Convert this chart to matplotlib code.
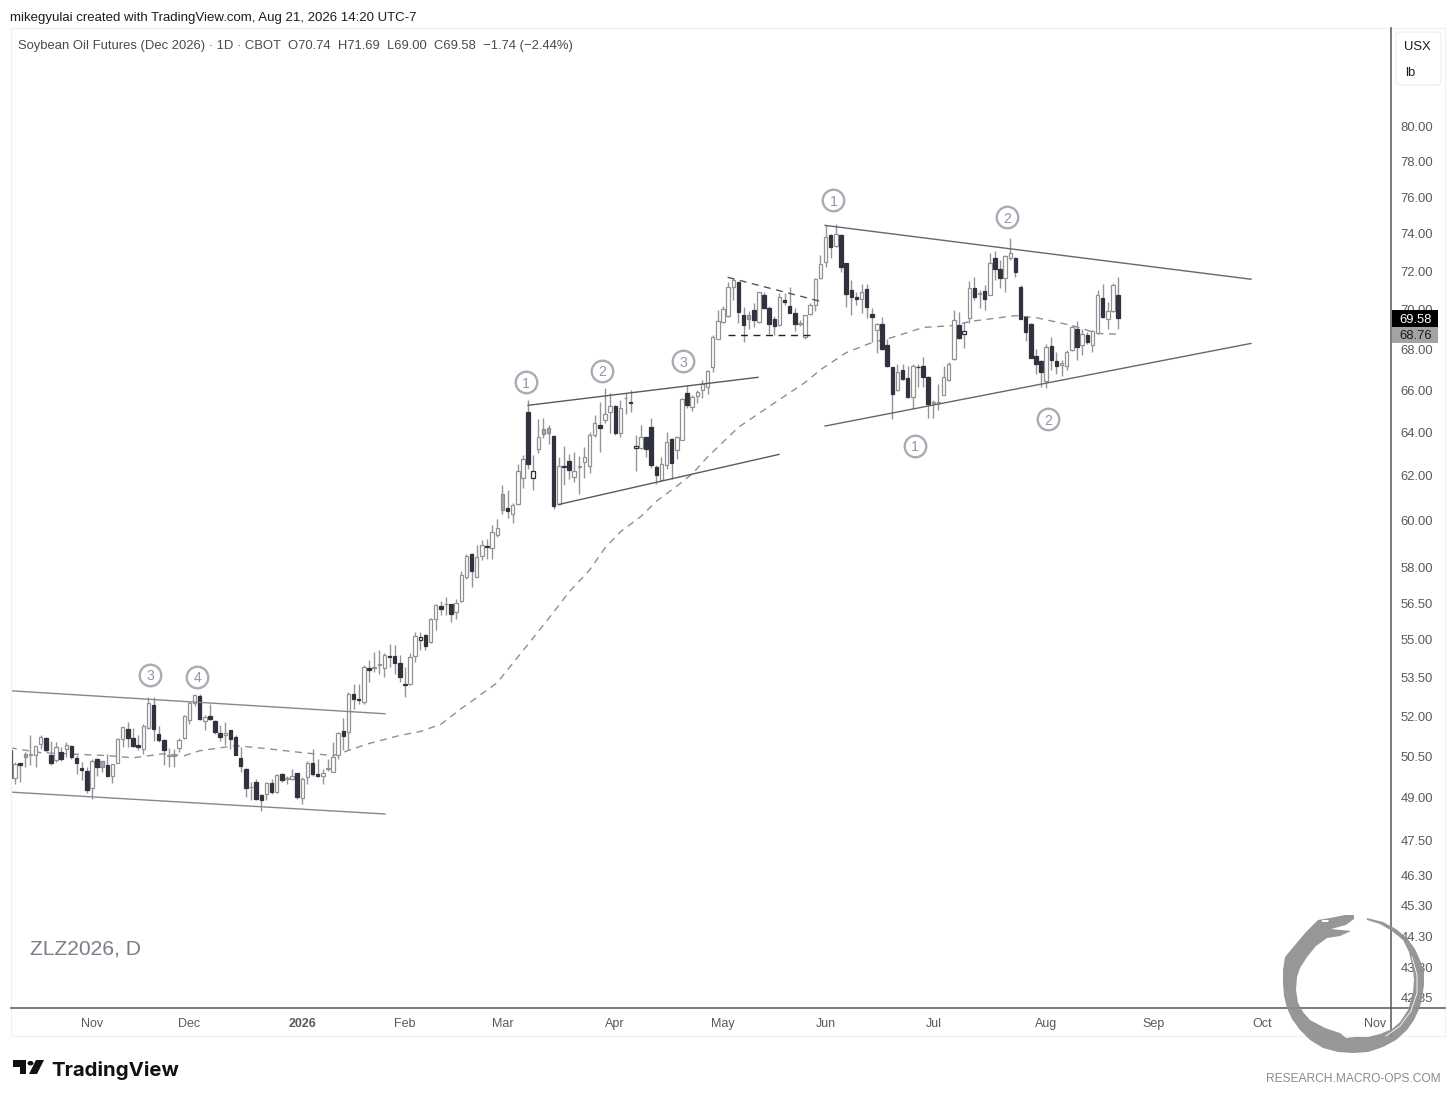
import numpy as np
import matplotlib
matplotlib.use("Agg")
import matplotlib.pyplot as plt
from matplotlib.patches import Rectangle, Polygon, Circle, FancyBboxPatch
from matplotlib.ticker import NullLocator, FixedLocator, FixedFormatter

# ---------- data ----------
opens = [50.73,49.73,50.25,50.49,50.57,50.57,50.98,51.19,50.56,50.39,
50.69,50.78,50.90,50.47,50.10,49.99,49.35,50.42,50.12,50.21,
49.80,50.28,51.15,51.54,51.20,50.95,50.79,51.58,52.46,51.34,
51.13,50.52,50.52,50.83,51.19,51.88,52.53,52.78,51.83,52.02,
51.84,51.39,51.30,51.48,51.25,50.46,50.05,49.39,49.59,49.11,
49.13,49.55,49.20,49.87,49.70,49.69,49.89,49.01,49.75,50.28,
49.85,49.79,50.05,49.94,50.57,51.47,51.43,52.87,52.68,52.54,
53.87,53.87,54.00,53.90,54.35,54.35,54.08,53.24,53.24,54.34,
54.99,55.20,54.90,55.86,56.39,56.44,56.44,56.13,56.58,57.58,
58.58,57.58,58.47,58.90,58.83,59.37,60.49,60.58,60.31,60.73,
61.91,64.97,61.89,63.22,63.92,63.99,63.84,60.73,62.45,62.70,
61.95,62.41,62.64,62.47,63.86,64.37,64.58,64.97,65.24,63.99,
65.61,65.43,63.27,63.29,63.77,64.26,62.42,61.80,62.49,63.69,
63.20,63.67,65.88,65.19,65.73,66.02,66.15,67.13,68.53,69.36,
69.69,71.16,71.41,69.74,69.55,69.98,69.38,70.75,70.10,69.53,
69.21,70.49,70.17,69.86,69.26,68.64,69.77,70.22,71.62,72.47,
73.93,73.36,73.93,72.42,71.00,70.68,70.54,71.07,69.79,68.98,
69.29,68.23,67.11,66.02,66.98,66.61,65.70,67.14,67.18,66.65,
65.41,65.41,65.79,66.48,67.52,69.24,68.78,69.58,71.14,70.83,
70.97,70.78,72.70,72.09,71.64,72.68,72.72,71.20,69.63,69.28,
67.67,67.44,66.43,68.16,67.45,67.24,67.19,67.95,69.04,68.20,
68.73,68.21,68.81,70.63,69.51,69.96,70.74]
highs = [50.73,50.30,50.26,50.67,51.29,50.90,51.31,51.23,51.10,51.06,
50.85,51.04,50.95,50.55,50.30,50.12,50.42,50.46,50.36,50.61,
50.24,51.19,51.59,51.79,51.57,51.29,51.73,52.75,52.75,51.63,
51.16,50.83,50.79,51.20,52.05,52.56,52.84,52.88,52.05,52.49,
51.86,51.67,51.79,51.50,51.29,50.85,50.09,49.57,49.69,49.15,
49.57,49.69,49.87,49.89,49.81,50.05,49.89,49.75,50.34,50.79,
50.42,50.05,50.42,51.04,51.42,51.96,52.95,53.27,53.27,53.99,
54.19,54.52,54.58,54.48,54.82,54.78,54.38,53.92,54.47,55.32,
55.32,55.25,55.90,56.47,56.58,56.75,56.47,56.65,57.83,58.58,
58.60,58.93,59.15,59.22,59.80,60.09,61.58,61.35,60.79,62.53,
62.95,65.53,62.95,64.61,64.70,64.34,63.87,62.84,63.36,63.02,
63.10,62.90,63.30,64.03,64.81,65.44,66.09,65.85,65.29,65.53,
65.85,66.01,63.87,64.34,63.80,64.70,62.49,62.84,64.00,63.72,
63.83,65.61,66.25,65.78,66.02,66.48,67.00,68.73,70.00,70.17,
71.46,71.64,71.46,70.14,69.96,70.34,70.93,70.93,70.20,69.69,
70.85,70.88,71.20,70.08,69.48,69.74,70.37,71.64,72.86,74.47,
73.97,74.51,73.97,72.45,71.55,70.93,71.32,71.32,70.08,69.34,
69.62,68.51,67.13,67.29,67.29,67.16,67.29,67.29,67.65,66.70,
65.54,66.31,67.16,67.40,70.00,69.91,69.40,71.51,71.69,71.02,
71.28,72.95,73.09,72.60,72.86,73.76,72.77,71.27,69.69,69.31,
68.02,67.49,68.28,68.64,67.85,67.49,67.98,69.23,69.45,69.01,
68.89,68.98,71.02,71.32,70.42,71.37,71.69]
lows = [49.73,49.49,49.57,50.12,50.18,50.12,50.79,50.67,50.21,50.30,
50.36,50.49,50.42,49.87,49.63,49.17,48.97,49.81,49.93,49.77,
49.53,50.26,50.85,50.85,50.85,50.73,50.61,51.54,51.08,51.04,
50.18,50.12,50.12,50.69,51.16,51.73,52.42,51.86,51.48,51.86,
51.35,51.10,50.92,50.79,50.55,49.93,49.03,48.91,48.93,48.55,
48.93,49.15,49.17,49.57,49.49,49.63,48.97,48.79,49.51,49.81,
49.77,49.51,49.99,49.93,50.42,50.73,50.73,52.30,52.49,52.49,
53.34,53.73,53.66,53.53,53.92,53.66,53.33,52.75,53.21,54.12,
54.60,54.58,54.87,55.39,55.99,56.02,55.72,55.84,56.55,57.51,
57.16,57.58,58.29,58.36,58.36,59.30,60.31,60.14,59.90,60.70,
61.47,62.33,61.35,63.05,63.72,63.45,60.53,60.68,61.58,61.88,
61.73,61.20,61.92,62.11,63.80,63.10,64.42,63.95,63.87,63.77,
64.89,64.94,62.22,63.25,62.84,62.38,61.65,61.77,62.33,61.88,
62.75,63.64,65.13,64.99,65.38,65.62,65.83,66.87,68.51,69.31,
69.65,70.51,69.34,68.35,69.01,69.14,69.34,70.03,68.78,68.73,
69.18,70.23,69.82,68.94,69.18,68.54,69.74,69.96,71.58,72.24,
72.68,73.30,71.98,70.14,69.72,70.25,69.82,69.60,68.35,67.82,
67.98,67.13,64.62,65.99,66.48,65.62,65.11,66.18,66.18,64.67,
64.67,65.07,65.78,66.44,67.49,68.51,68.05,69.34,70.51,70.08,
70.00,70.75,71.55,71.11,70.93,72.60,71.72,69.51,68.40,67.57,
66.80,66.18,66.10,67.00,66.80,66.67,67.00,67.93,67.49,67.70,
68.28,67.88,68.76,69.58,69.01,69.91,69.00]
closes = [49.73,50.24,50.21,50.61,50.61,50.89,51.25,50.73,50.26,50.85,
50.42,50.94,50.49,50.26,50.01,49.27,50.36,50.12,50.33,49.80,
50.24,51.16,51.59,51.21,50.88,50.87,51.65,52.53,51.54,51.11,
50.73,50.55,50.55,51.13,52.02,52.52,52.82,51.92,51.98,51.91,
51.42,51.25,51.39,51.16,50.58,50.14,49.35,49.41,48.97,48.93,
49.55,49.20,49.83,49.63,49.73,49.81,49.05,49.70,50.28,49.85,
49.79,49.89,50.08,50.50,51.38,51.26,52.85,52.67,52.65,53.92,
53.82,53.94,54.03,54.39,54.31,54.08,53.52,53.21,54.31,55.14,
55.12,54.74,55.86,56.40,56.25,56.47,56.06,56.50,57.65,58.46,
57.82,58.43,58.93,58.85,59.51,59.70,61.20,60.44,60.68,62.20,
62.75,62.53,62.24,63.77,64.14,64.23,60.65,62.47,62.41,62.27,
62.24,62.44,62.84,63.86,64.42,64.19,64.89,65.26,63.99,65.13,
65.64,65.37,63.38,63.77,63.22,62.49,62.06,62.52,63.55,62.59,
63.80,65.58,65.29,65.67,65.94,66.31,66.92,68.61,69.43,70.03,
71.16,71.55,69.91,69.23,69.72,69.48,70.90,70.08,69.29,69.16,
70.64,70.40,69.86,69.28,69.31,69.72,70.25,71.60,72.38,73.81,
73.27,73.97,72.22,70.80,70.68,70.56,70.90,70.12,69.65,69.29,
68.00,67.16,65.80,66.90,66.57,65.70,67.16,67.11,66.63,65.35,
65.46,65.46,66.63,67.27,69.50,68.56,68.94,71.14,70.66,70.88,
70.54,72.42,72.11,71.62,72.81,72.95,71.98,69.55,68.89,67.60,
67.26,66.89,68.11,67.49,67.16,67.32,67.87,69.11,68.10,68.76,
68.35,68.94,70.78,69.62,69.93,71.28,69.58]
gray_bars = [3, 18, 96, 104, 105, 144]
dark_edge_bars = [80, 102, 122, 186]

ma_idx = [0,6,19,24,30,34,37,44,50,57,63,70,76,80,84,88,91,95,98,102,106,109,113,116,119,123,126,130,133,136,142,149,155,158,163,168,172,178,184,187,196,200,207,212,216]
ma_val = [50.83,50.65,50.54,50.46,50.61,50.54,50.72,50.91,50.80,50.65,50.54,50.99,51.29,51.44,51.71,52.31,52.73,53.31,54.06,55.08,56.13,56.96,57.88,58.82,59.52,60.19,60.86,61.54,62.09,62.87,64.24,65.39,66.38,67.00,67.84,68.34,68.60,69.10,69.20,69.40,69.70,69.60,69.20,68.80,68.76]

# drawn trend lines: ((bar, price), (bar, price))
solid_lines = [((0.22,52.99),(73.1,52.11)), ((0.22,49.21),(73.1,48.43)),
               ((101,65.28),(145.8,66.63)), ((107,60.72),(149.9,62.98)),
               ((158.9,74.45),(241.9,71.58)), ((158.9,64.30),(241.9,68.30))]
solid_colors = ['#85878f','#85878f','#5a5a5a','#5a5a5a','#66666c','#66666c']
dashed_lines = [((139.9,71.68),(158.3,70.41)), ((139.9,68.71),(156.8,68.71))]
dashed_colors = ['#555555','#222222']

wave_idx = [27.3,36.5,100.6,115.4,131.2,160.5,194.4,176.4,202.4]
wave_price = [53.62,53.54,66.39,66.96,67.41,75.83,74.90,63.39,64.61]
wave_text = ['3','4','1','2','3','1','2','1','2']

price_ticks = [80,78,76,74,72,70,68,66,64,62,60,58,56.5,55,53.5,52,50.5,49,47.5,46.3,45.3,44.3,43.3,42.35]
month_pos = [16,35,57,77,96,118,139,159,180,202,223,244,266]
month_lab = ['Nov','Dec','2026','Feb','Mar','Apr','May','Jun','Jul','Aug','Sep','Oct','Nov']

last_close = 69.58
last_ma = 68.76

# ---------- layout ----------
W, H = 1456, 1100
plt.rcParams['font.family'] = ['Liberation Sans', 'DejaVu Sans']
fig = plt.figure(figsize=(W/100, H/100), dpi=100, facecolor='white')
def fx(x): return x / W
def fy(y): return 1 - y / H
PT = 0.72

ax = fig.add_axes([fx(11), fy(1008), fx(1391) - fx(11), fy(28) - fy(1008)])
ax.set_yscale('log')
ax.set_xlim(0.22, 269.2)
ax.set_ylim(42.03, 86.0)
for s in ['top', 'left', 'right', 'bottom']:
    ax.spines[s].set_visible(False)

o, h, l, c = map(np.array, (opens, highs, lows, closes))
x = np.arange(len(o))
DARK, EDGE, WICK = '#30323f', '#929292', '#959595'
up = c >= o
face = np.where(up, 'white', DARK).tolist()
edge = np.where(up, EDGE, DARK).tolist()
for i in gray_bars:
    face[i] = '#a6a6a6'; edge[i] = '#8c8c8c'
for i in dark_edge_bars:
    edge[i] = '#2b2d3b'
ax.vlines(x, l, h, color=WICK, lw=1.0, zorder=2)
ax.bar(x, np.abs(c - o), bottom=np.minimum(o, c), width=0.68, color=face,
       edgecolor=edge, linewidth=0.9, zorder=3)

ax.plot(ma_idx, ma_val, color='#8f8f8f', lw=1.0, dashes=(5, 4), zorder=2.5)
for (a, b), col in zip(solid_lines, solid_colors):
    ax.plot([a[0], b[0]], [a[1], b[1]], color=col, lw=1.0, zorder=4)
for (a, b), col in zip(dashed_lines, dashed_colors):
    ax.plot([a[0], b[0]], [a[1], b[1]], color=col, lw=1.0, dashes=(5, 4), zorder=4)

ax.scatter(wave_idx, wave_price, s=240, facecolors='white', edgecolors='#a9acb4', linewidths=1.7, zorder=5)
for xi, pi, t in zip(wave_idx, wave_price, wave_text):
    ax.text(xi, pi, t, ha='center', va='center_baseline', fontsize=14*PT, color='#93959e', zorder=6)

ax.yaxis.tick_right()
ax.yaxis.set_major_locator(FixedLocator(price_ticks))
ax.yaxis.set_major_formatter(FixedFormatter(['%.2f' % p for p in price_ticks]))
ax.yaxis.set_minor_locator(NullLocator())
ax.tick_params(axis='y', length=0, pad=7, labelsize=13*PT, labelcolor='#59595e')
for t in ax.get_yticklabels():
    t.set_va('center_baseline')
ax.set_xticks(month_pos)
ax.set_xticklabels(month_lab)
ax.tick_params(axis='x', length=0, pad=7, labelsize=12.5*PT, labelcolor='#59595e')
ax.get_xticklabels()[2].set_fontweight('bold')

# frame lines
def hline(y, x0, x1, col, lw, z=2):
    fig.add_artist(plt.Line2D([fx(x0), fx(x1)], [fy(y), fy(y)], color=col, lw=lw, zorder=z))
def vline(xp, y0, y1, col, lw, z=2):
    fig.add_artist(plt.Line2D([fx(xp), fx(xp)], [fy(y0), fy(y1)], color=col, lw=lw, zorder=z))
hline(28, 11, 1445, '#f2f2f2', 1)
hline(1036, 11, 1445, '#f2f2f2', 1)
vline(11, 28, 1036, '#f2f2f2', 1)
vline(1445, 28, 1036, '#f2f2f2', 1)
hline(1008, 11, 1445, '#55575f', 1.1)
vline(1391, 28, 1036, '#55575f', 1.1)

# price labels
fig.canvas.draw()
def ypx(p):
    return H - ax.transData.transform((0, p))[1]
for p, bg, fg in [(last_ma, '#a3a3a3', '#1a1a1a'), (last_close, 'black', 'white')]:
    yc = ypx(p)
    fig.add_artist(Rectangle((fx(1392), fy(yc + 8.5)), 46/W, 17/H, transform=fig.transFigure,
                             facecolor=bg, edgecolor='none', zorder=3))
    fig.text(fx(1416), fy(yc + 0.5), '%.2f' % p, ha='center', va='center_baseline', fontsize=13*PT, color=fg, zorder=4)

# unit box
fig.add_artist(FancyBboxPatch((fx(1396), fy(85)), 45/W, 53/H, boxstyle='round,pad=0,rounding_size=0.003',
                              transform=fig.transFigure, facecolor='white', edgecolor='#f0f0f0', lw=1, zorder=3))
fig.text(fx(1417), fy(45), 'USX', ha='center', va='center_baseline', fontsize=13*PT, color='#1e1e1e', zorder=4)
fig.text(fx(1405), fy(71), 'lb', ha='left', va='center_baseline', fontsize=13*PT, color='#1e1e1e', zorder=4)

# headers
fig.text(fx(10), fy(16), 'mikegyulai created with TradingView.com, Aug 21, 2026 14:20 UTC-7',
         ha='left', va='center_baseline', fontsize=13.25*PT, color='#1c1c1c')
fig.text(fx(18), fy(44.5), 'Soybean Oil Futures (Dec 2026) · 1D · CBOT  O70.74  H71.69  L69.00  C69.58  −1.74 (−2.44%)',
         ha='left', va='center_baseline', fontsize=13*PT, color='#4a4a4e')
fig.text(fx(30), fy(947), 'ZLZ2026, D', ha='left', va='center_baseline', fontsize=21*PT, color='#7b7d88')
fig.text(fx(1441), fy(1078), 'RESEARCH.MACRO-OPS.COM', ha='right', va='center_baseline', fontsize=12*PT, color='#8a8a8a')

# TradingView logo
def pix(pts):
    return [(fx(a), fy(b)) for a, b in pts]
fig.add_artist(Polygon(pix([(13,1060),(26,1060),(26,1074),(20,1074),(20,1067),(13,1067)]), closed=True,
                       transform=fig.transFigure, facecolor='#111111', edgecolor='none'))
fig.add_artist(Polygon(pix([(36,1060),(44,1060),(37,1074),(29,1074)]), closed=True,
                       transform=fig.transFigure, facecolor='#111111', edgecolor='none'))
fig.add_artist(Circle((fx(30.5), fy(1063.2)), 3/W, transform=fig.transFigure, facecolor='#111111', edgecolor='none'))
fig.text(fx(51), fy(1068), 'TradingView', ha='left', va='center_baseline', fontsize=20.4*PT, fontweight='bold',
         family='Inter', color='#111111')

# ouroboros watermark (a logo outline, in picture pixels)
snake = [(1354,915),(1354,919),(1346,925),(1331,929),(1351,931),(1340,936),(1327,938),(1316,946),(1307,957),
         (1300,968),(1297,977),(1296,990),(1298,1003),(1303,1012),(1310,1020),(1325,1028),(1340,1033),(1346,1038),
         (1355,1037),(1368,1037),(1380,1034),(1392,1029),(1400,1022),(1408,1010),(1413,993),(1414,980),(1413,970),
         (1409,952),(1403,940),(1392,931),(1380,924),(1367,920),(1367,918),(1383,922),(1396,929),(1407,938),
         (1415,949),(1420,960),(1424,972),(1424,985),(1422,998),(1420,1007),(1414,1020),(1407,1030),(1396,1040),
         (1383,1047),(1368,1052),(1353,1053),(1338,1052),(1323,1048),(1310,1040),(1300,1030),(1292,1019),
         (1287,1008),(1284,996),(1283,983),(1283,970),(1285,957),(1295,945),(1306,932),(1318,920),(1330,918),(1345,915)]
WM = '#8e8e8e'
fig.add_artist(Polygon(pix(snake), closed=True, transform=fig.transFigure, facecolor=WM, edgecolor='none', alpha=0.92, zorder=8))
crack = [(1386,1036),(1400,1026),(1411,1011),(1417,993),(1417,975),(1412,957)]
fig.add_artist(plt.Line2D([fx(a) for a, b in crack], [fy(b) for a, b in crack], color='white', lw=0.6, zorder=9))
fig.add_artist(Polygon(pix([(1322,920),(1329,920),(1328,922),(1322,922)]), closed=True, transform=fig.transFigure,
                       facecolor='white', edgecolor='none', zorder=9))

fig.savefig('out.png', dpi=100, facecolor='white')
